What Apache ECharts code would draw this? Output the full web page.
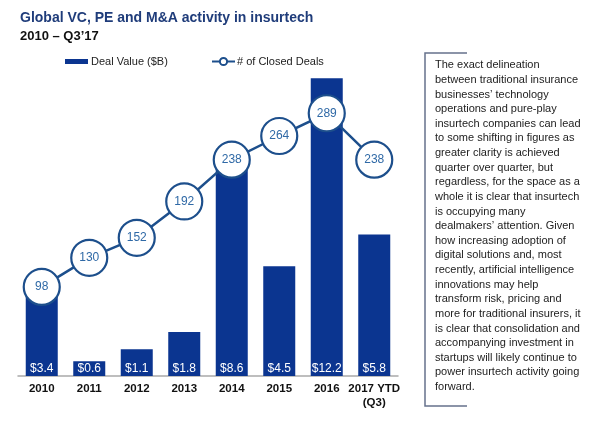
<!DOCTYPE html>
<html>
<head>
<meta charset="utf-8">
<script src="https://cdn.jsdelivr.net/npm/echarts@6/dist/echarts.min.js"></script>
<style>
html,body{margin:0;padding:0;background:#fff;}
#chart{width:600px;height:430px;}
</style>
</head>
<body>
<div id="chart"></div>
<script>
const categories = ['2010', '2011', '2012', '2013', '2014', '2015', '2016', '2017 YTD\n(Q3)'];
const dealValue = [3.4, 0.6, 1.1, 1.8, 8.6, 4.5, 12.2, 5.8];
const closedDeals = [98, 130, 152, 192, 238, 264, 289, 238];
const titleText = 'Global VC, PE and M&A activity in insurtech';
const subtitleText = '2010 – Q3\u201917';
const sideLines = [
  'The exact delineation',
  'between traditional insurance',
  'businesses\u2019 technology',
  'operations and pure-play',
  'insurtech companies can lead',
  'to some shifting in figures as',
  'greater clarity is achieved',
  'quarter over quarter, but',
  'regardless, for the space as a',
  'whole it is clear that insurtech',
  'is occupying many',
  'dealmakers\u2019 attention. Given',
  'how increasing adoption of',
  'digital solutions and, most',
  'recently, artificial intelligence',
  'innovations may help',
  'transform risk, pricing and',
  'more for traditional insurers, it',
  'is clear that consolidation and',
  'accompanying investment in',
  'startups will likely continue to',
  'power insurtech activity going',
  'forward.'
];

const FONT = '"Liberation Sans", Arial, Helvetica, sans-serif';
const BAR = '#0b3590';
const LINE = '#1d4f8c';

const chart = echarts.init(document.getElementById('chart'), null, {renderer: 'canvas'});
chart.setOption({
  animation: false,
  backgroundColor: '#fff',
  textStyle: {fontFamily: FONT},
  title: [
    {text: titleText, left: 15, top: 6, textStyle: {fontSize: 14, fontWeight: 'bold', color: '#1f3c7a', fontFamily: FONT}},
    {text: subtitleText, left: 15, top: 25, textStyle: {fontSize: 13, fontWeight: 'bold', color: '#111', fontFamily: FONT}}
  ],
  legend: [
    {data: ['Deal Value ($B)'], left: 60, top: 51, itemWidth: 23, itemHeight: 5, icon: 'rect',
     textStyle: {fontSize: 11, color: '#222', fontFamily: FONT, padding: [0, 0, 0, -2]}},
    {data: ['# of Closed Deals'], left: 206, top: 51, itemWidth: 23, itemHeight: 9,
     textStyle: {fontSize: 11, color: '#222', fontFamily: FONT, padding: [0, 0, 0, -3]}}
  ],
  grid: {left: 18, right: 202, top: 66, bottom: 54, containLabel: false},
  xAxis: {
    type: 'category',
    data: categories,
    axisLine: {lineStyle: {color: '#a9a9a9', width: 1.5}},
    axisTick: {show: false},
    axisLabel: {interval: 0, margin: 6, fontSize: 11.5, fontWeight: 'bold', color: '#111', lineHeight: 14, fontFamily: FONT}
  },
  yAxis: [
    {type: 'value', min: 0, max: 12.7, show: false, splitLine: {show: false}},
    {type: 'value', min: 0, max: 341, show: false, splitLine: {show: false}}
  ],
  series: [
    {
      name: 'Deal Value ($B)',
      type: 'bar',
      data: dealValue,
      yAxisIndex: 0,
      barWidth: 32,
      itemStyle: {color: BAR},
      label: {show: true, position: 'insideBottom', distance: 1, color: '#fff', fontSize: 12, fontFamily: FONT,
              formatter: p => '$' + p.value.toFixed(1)}
    },
    {
      name: '# of Closed Deals',
      type: 'line',
      data: closedDeals,
      yAxisIndex: 1,
      symbol: 'circle',
      symbolSize: 36,
      lineStyle: {color: LINE, width: 2.5},
      itemStyle: {color: '#fff', borderColor: LINE, borderWidth: 2.2},
      label: {show: true, position: 'inside', color: '#2f69a6', fontSize: 12, fontFamily: FONT},
      z: 5
    }
  ],
  graphic: [
    {type: 'polyline', shape: {points: [[467, 53], [425, 53], [425, 406], [467, 406]]},
     style: {stroke: '#66728c', lineWidth: 1.5, fill: null}},
    {type: 'text', left: 435, top: 58,
     style: {text: sideLines.join('\n'), font: '11px ' + FONT, fill: '#222', lineHeight: 14.62}}
  ]
});
</script>
</body>
</html>
